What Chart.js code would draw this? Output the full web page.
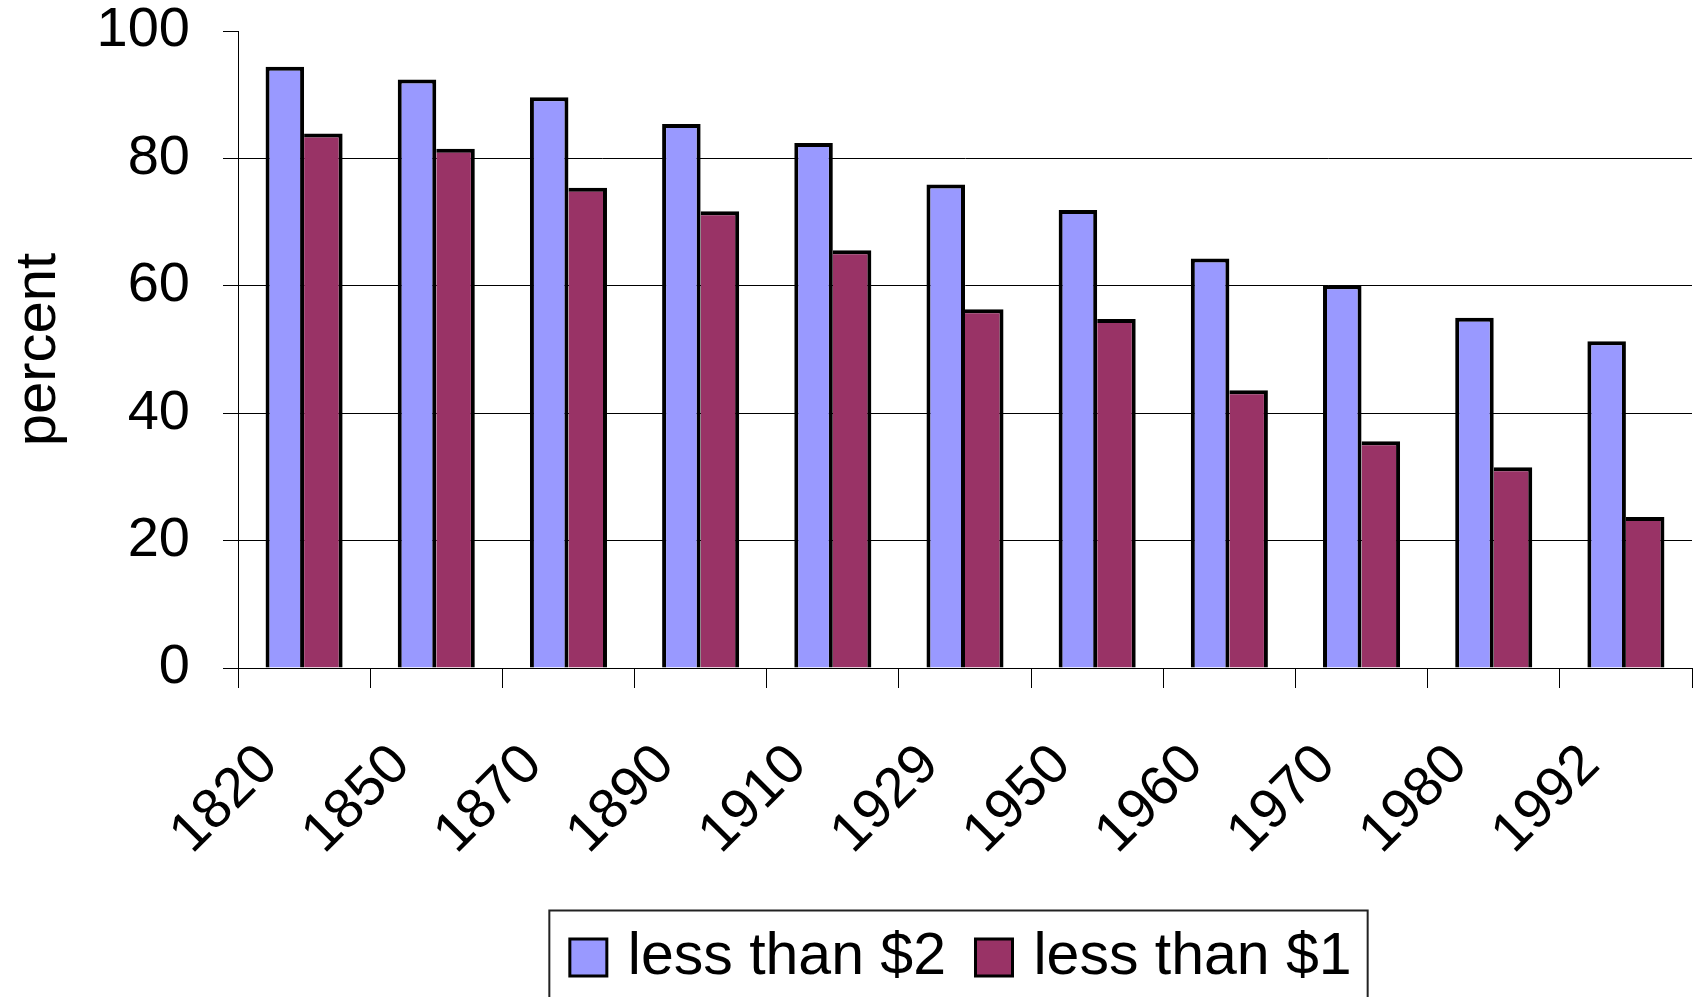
<!DOCTYPE html>
<html>
<head>
<meta charset="utf-8">
<script src="https://cdn.jsdelivr.net/npm/chart.js@4.4.1/dist/chart.umd.min.js"></script>
<style>
  html, body { margin: 0; padding: 0; background: #fff; }
  #wrap { width: 1700px; height: 997px; }
</style>
</head>
<body>
<div id="wrap"><canvas id="c" width="1700" height="997"></canvas></div>
<script>
// Share of world population living on less than $2 / $1 a day
const years = ['1820', '1850', '1870', '1890', '1910', '1929', '1950', '1960', '1970', '1980', '1992'];
const lessThan2 = [94.4, 92.4, 89.6, 85.4, 82.4, 75.9, 71.9, 64.3, 60.1, 55.0, 51.3];
const lessThan1 = [83.9, 81.5, 75.4, 71.7, 65.6, 56.3, 54.8, 43.6, 35.6, 31.5, 23.7];
const yTicks = [0, 20, 40, 60, 80, 100];
const seriesNames = ['less than $2', 'less than $1'];
const axisTitle = 'percent';

const FONT = "'Liberation Sans', Arial, Helvetica, sans-serif";
Chart.defaults.font.family = FONT;
Chart.defaults.color = '#000';

// Frame around the legend row, sized from the legend's own item boxes
const legendFrame = {
  id: 'legendFrame',
  afterDraw(chart) {
    const lg = chart.legend;
    if (!lg || !lg.legendHitBoxes || !lg.legendHitBoxes.length) return;
    const hb = lg.legendHitBoxes;
    const first = hb[0], last = hb[hb.length - 1];
    const mid = first.top + first.height / 2;
    const left = first.left - 29;
    const right = last.left + last.width + 16;
    const top = mid - 47;
    const bottom = chart.height + 10;
    const ctx = chart.ctx;
    ctx.save();
    ctx.strokeStyle = '#222';
    ctx.lineWidth = 2;
    ctx.strokeRect(left, top, right - left, bottom - top);
    ctx.restore();
  }
};

new Chart(document.getElementById('c'), {
  type: 'bar',
  data: {
    labels: years,
    datasets: [
      {
        label: seriesNames[0],
        data: lessThan2,
        backgroundColor: '#9999FF',
        borderColor: '#000',
        borderWidth: { top: 4, left: 4, right: 4, bottom: 0 },
        borderSkipped: false,
        categoryPercentage: 0.583,
        barPercentage: 1.0
      },
      {
        label: seriesNames[1],
        data: lessThan1,
        backgroundColor: '#993366',
        borderColor: '#000',
        borderWidth: { top: 4, left: 0, right: 4, bottom: 0 },
        borderSkipped: false,
        categoryPercentage: 0.583,
        barPercentage: 1.0
      }
    ]
  },
  options: {
    responsive: false,
    animation: false,
    devicePixelRatio: 1,
    layout: { padding: { top: 31, right: 8, left: 0, bottom: 0 } },
    plugins: {
      tooltip: { enabled: false },
      legend: {
        position: 'bottom',
        fullSize: false,
        labels: {
          color: '#000',
          font: { size: 59, family: FONT },
          usePointStyle: true,
          pointStyle: 'rect',
          boxWidth: 20,
          boxHeight: 37,
          padding: 38,
          generateLabels(chart) {
            return Chart.defaults.plugins.legend.labels.generateLabels(chart)
              .map(l => Object.assign(l, { lineWidth: 3, strokeStyle: '#000', pointStyle: 'rect' }));
          }
        }
      }
    },
    scales: {
      x: {
        grid: {
          drawOnChartArea: false,
          drawTicks: true,
          tickLength: 20,
          tickColor: '#000',
          offset: true
        },
        border: { color: '#000', width: 1 },
        ticks: {
          color: '#000',
          font: { size: 56, family: FONT },
          minRotation: 45,
          maxRotation: 45,
          autoSkip: false,
          padding: 44,
          labelOffset: -35
        },
        afterFit(scale) {
          scale.height = 222;
          scale.paddingLeft = 0;
          scale.paddingRight = 0;
        }
      },
      y: {
        min: 0,
        max: 100,
        afterBuildTicks(scale) { scale.ticks = yTicks.map(v => ({ value: v })); },
        ticks: {
          color: '#000',
          font: { size: 56, family: FONT, lineHeight: 1.0 },
          padding: 33
        },
        grid: {
          color: c => (c.tick && c.tick.value === 100) ? 'rgba(0,0,0,0)' : '#000',
          tickColor: '#000',
          tickLength: 15,
          lineWidth: 1
        },
        border: { color: '#000', width: 1 },
        title: {
          display: true,
          text: axisTitle,
          color: '#000',
          font: { size: 58, family: FONT },
          padding: { top: 4, bottom: 0 }
        },
        afterFit(scale) {
          scale.width = 238;
          scale.paddingTop = 0;
          scale.paddingBottom = 0;
        }
      }
    }
  },
  plugins: [legendFrame]
});
</script>
</body>
</html>
